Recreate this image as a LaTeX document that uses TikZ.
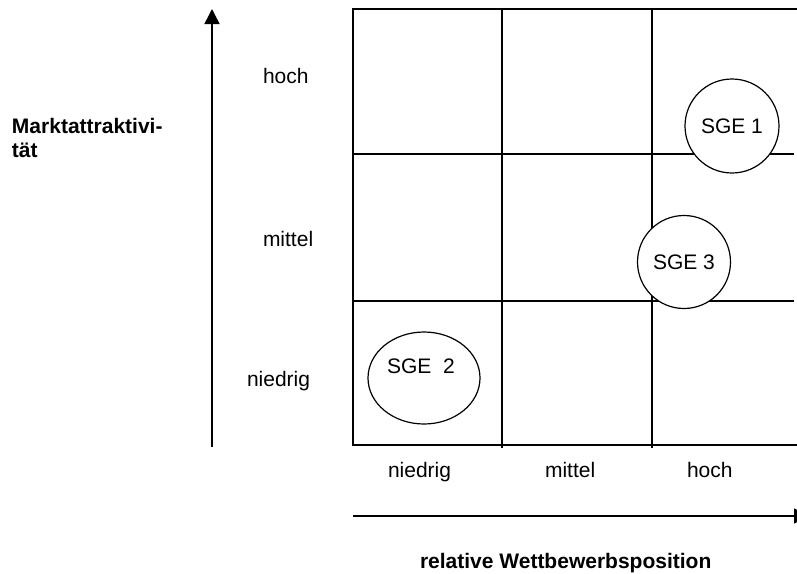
\documentclass[tikz,border=0pt]{standalone}
\usepackage{fontspec}
\setmainfont{Liberation Sans}
\usetikzlibrary{arrows.meta,shapes.geometric}
\begin{document}
\begin{tikzpicture}[x=1pt,y=-1pt,
  every node/.style={inner sep=0pt,outer sep=0pt,font=\fontsize{21}{23}\selectfont},
  gridline/.style={line width=1.5pt,line cap=rect},
  axisarrow/.style={line width=1.5pt,-{Triangle[width=15pt,length=15pt]}},
  lbl/.style={anchor=base west},
  bold/.style={anchor=base west,font=\fontsize{21}{23}\selectfont\bfseries},
  sge/.style={draw,line width=1.2pt,circle,minimum size=94pt}]
\useasboundingbox (0,0) rectangle (797,573);
% grid coordinates
\coordinate (tl) at (353,9);
\coordinate (tr) at (800,9);
\coordinate (bl) at (353,445);
\coordinate (br) at (800,445);
\coordinate (v1t) at (502,9);
\coordinate (v1b) at (502,447);
\coordinate (v2t) at (652,9);
\coordinate (v2b) at (652,447);
\coordinate (h1l) at (353,154);
\coordinate (h1r) at (793,154);
\coordinate (h2l) at (353,301);
\coordinate (h2r) at (793,301);
\draw[gridline] (tr) -- (tl) -- (bl) -- (br);
\draw[gridline] (v1t) -- (v1b);
\draw[gridline] (v2t) -- (v2b);
\draw[gridline] (h1l) -- (h1r);
\draw[gridline] (h2l) -- (h2r);
% axes
\coordinate (ya) at (212,447);
\coordinate (yb) at (212,9);
\draw[axisarrow] (ya) -- (yb);
\coordinate (xa) at (353,516);
\coordinate (xb) at (809,516);
\draw[axisarrow] (xa) -- (xb);
% axis labels
\node[lbl] (yhoch) at (263,83) {hoch};
\node[lbl] (ymittel) at (263,246) {mittel};
\node[lbl] (yniedrig) at (247,386) {niedrig};
\node[lbl] (xniedrig) at (388,477) {niedrig};
\node[lbl] (xmittel) at (545,477) {mittel};
\node[lbl] (xhoch) at (687,477) {hoch};
\node[bold] (ytitle1) at (12,133) {Marktattraktivi-};
\node[bold] (ytitle2) at (12,157) {tät};
\node[bold] (xtitle) at (420,568) {relative Wettbewerbsposition};
% SGE
\node[sge,fill=white] (sge1) at (732,126) {SGE 1};
\node[sge,fill=white,minimum size=93pt] (sge3) at (684,262) {SGE 3};
\node[draw,line width=1.2pt,ellipse,minimum width=112pt,minimum height=92pt] (sge2) at (424,378) {};
\node[lbl] (sge2t) at (387,373) {SGE\ \ 2};
\end{tikzpicture}
\end{document}
